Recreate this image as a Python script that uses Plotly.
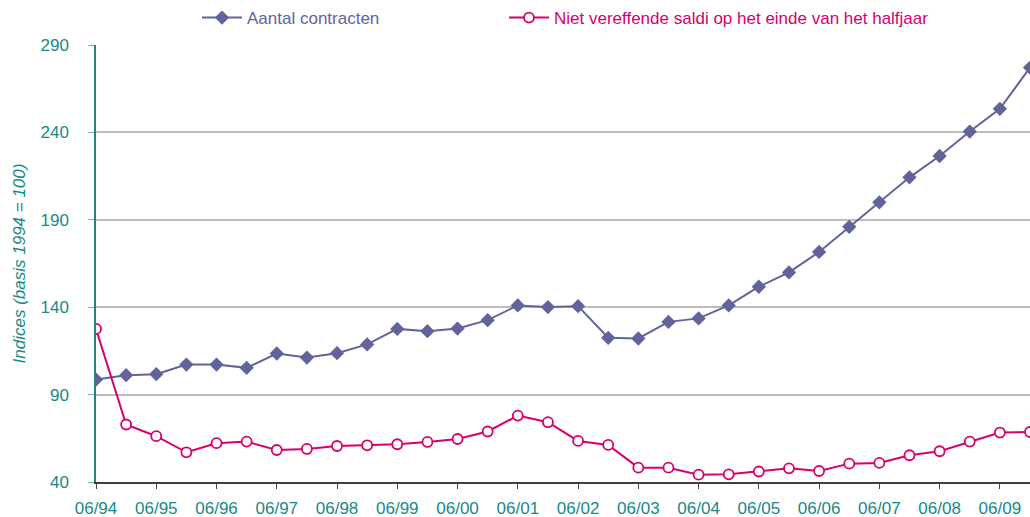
import plotly.graph_objects as go

# halfjaarlijkse periodes
perioden = []
for j in range(94, 110):
    jj = f"{j % 100:02d}"
    perioden += [f"06/{jj}", f"12/{jj}"]

tick_labels = [p for p in perioden if p.startswith("06/")]

aantal_contracten = [98.6, 101.1, 101.7, 107.2, 107.2, 105.3, 113.5, 111.2,
                     113.7, 118.7, 127.6, 126.3, 127.8, 132.6, 141.0, 140.1,
                     140.6, 122.5, 122.1, 131.6, 133.6, 141.0, 151.7, 159.9,
                     171.6, 186.0, 200.0, 214.3, 226.5, 240.5, 253.5, 277.1]

niet_vereffend = [127.6, 72.9, 66.2, 57.0, 62.2, 63.1, 58.3, 58.9,
                  60.6, 61.0, 61.6, 62.9, 64.6, 68.9, 78.0, 74.2,
                  63.5, 61.2, 48.2, 48.2, 44.2, 44.4, 46.0, 47.8,
                  46.3, 50.5, 50.9, 55.3, 57.6, 63.1, 68.3, 68.6]

paars = "#63639C"
roze = "#D6006F"
teal = "#16898A"

fig = go.Figure()
fig.add_trace(go.Scatter(
    x=perioden, y=aantal_contracten, mode="lines+markers",
    name=f"<span style='color:{paars}'>Aantal contracten</span>",
    line=dict(color=paars, width=2),
    marker=dict(symbol="diamond", size=11, color=paars),
    legend="legend"))
fig.add_trace(go.Scatter(
    x=perioden, y=niet_vereffend, mode="lines+markers",
    name=f"<span style='color:{roze}'>Niet vereffende saldi op het einde van het halfjaar</span>",
    line=dict(color=roze, width=2),
    marker=dict(symbol="circle", size=10, color="white",
                line=dict(color=roze, width=1.8)),
    legend="legend2"))

leg = dict(orientation="h", xref="container", yref="container",
           xanchor="left", yanchor="middle", font=dict(size=17),
           itemwidth=40, bgcolor="rgba(0,0,0,0)")

fig.update_layout(
    width=1030, height=517,
    margin=dict(l=96, r=0, t=45, b=35, autoexpand=False),
    paper_bgcolor="white", plot_bgcolor="white",
    font=dict(family="Liberation Sans, Arial, sans-serif", size=17, color=teal),
    showlegend=True,
    legend=dict(leg, x=197 / 1030, y=1 - 18 / 517),
    legend2=dict(leg, x=504 / 1030, y=1 - 18 / 517),
    xaxis=dict(
        type="category", range=[0, len(perioden) - 1],
        tickmode="array", tickvals=tick_labels, ticktext=tick_labels,
        showgrid=False, showline=True, linecolor="#404040", linewidth=1.5,
        ticks="outside", ticklen=5, tickcolor="#404040",
        tickfont=dict(size=17, color=teal), ticklabelstandoff=5),
    yaxis=dict(
        range=[40, 290], tickvals=[40, 90, 140, 190, 240, 290],
        showgrid=True, gridcolor="#BDBDBD", gridwidth=1.5,
        showline=True, linecolor=teal, linewidth=1.5,
        ticks="outside", ticklen=6, tickcolor="#8AA8A8",
        tickfont=dict(size=17, color=teal), ticklabelstandoff=16,
        zeroline=False,
        title=dict(text="<i>Indices (basis 1994 = 100)</i>",
                   font=dict(size=17, color=teal), standoff=11)),
)

# standaard body-marge van de pagina weghalen zodat de figuur het venster vult
fig.write_html("out.html",
               config={"displayModeBar": False},
               post_script="document.body.style.margin='0';"
                           "document.documentElement.style.overflow='hidden';")
